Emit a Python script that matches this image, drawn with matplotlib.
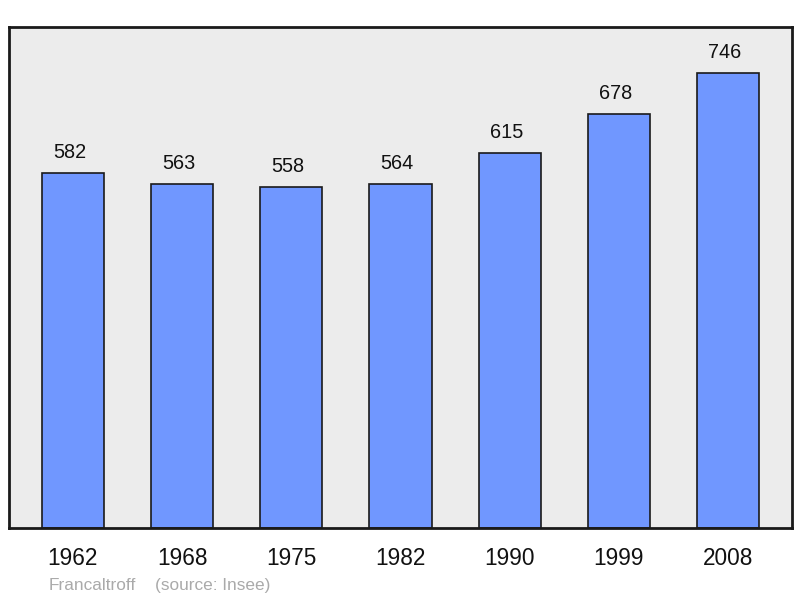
import matplotlib
matplotlib.use("Agg")
import matplotlib.pyplot as plt

years = ["1962", "1968", "1975", "1982", "1990", "1999", "2008"]
population = [582, 563, 558, 564, 615, 678, 746]

plt.rcParams["font.family"] = ["Liberation Sans", "DejaVu Sans"]

fig = plt.figure(figsize=(8, 5.98), dpi=100)
ax = fig.add_axes([9 / 800, 70 / 598, 783 / 800, 501 / 598])   # plot box in pixels
ax.set_facecolor("#ececec")

x = range(len(years))
bars = ax.bar(x, population, width=0.57, color="#7097ff",
              edgecolor="#1a1a1a", linewidth=1.2, zorder=2)

for b, v in zip(bars, population):
    ax.text(b.get_x() + b.get_width() / 2 - 0.03, v + 18, str(v),
            ha="center", va="bottom", fontsize=14.3, color="#111111")

ax.set_xlim(-0.585, len(years) - 1 + 0.585)
ax.set_ylim(0, max(population) * 1.1)
ax.set_xticks(list(x))
ax.set_xticklabels(years, fontsize=16.3, color="#111111")
ax.tick_params(axis="x", length=0, pad=13.5)
ax.set_yticks([])

for s in ax.spines.values():
    s.set_linewidth(2)
    s.set_color("#1a1a1a")

fig.text(49 / 800, 1 - 590 / 598, "Francaltroff", fontsize=12.4, color="#aaaaaa")
fig.text(155 / 800, 1 - 590 / 598, "(source: Insee)", fontsize=12.4, color="#aaaaaa")

fig.savefig("out.png", dpi=100)
